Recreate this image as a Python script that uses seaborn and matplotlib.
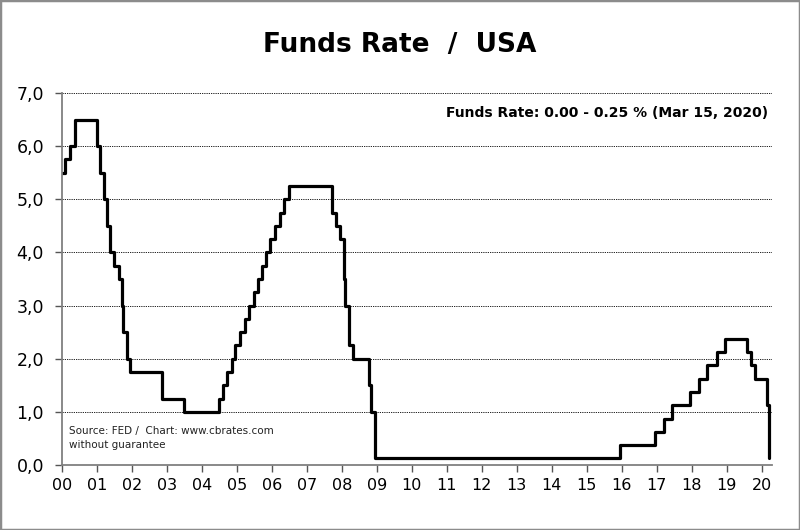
import numpy as np
import pandas as pd
import matplotlib.pyplot as plt
import seaborn as sns
from matplotlib.patches import Rectangle

sns.set_theme(style="white")
plt.rcParams["font.family"] = ["DejaVu Sans"]

# Fed funds target rate (midpoint), change dates
change_dates = [
    "2000-01-01", "2000-02-02", "2000-03-21", "2000-05-16",
    "2001-01-03", "2001-01-31", "2001-03-20", "2001-04-18", "2001-05-15",
    "2001-06-27", "2001-08-21", "2001-09-17", "2001-10-02", "2001-11-06",
    "2001-12-11", "2002-11-06", "2003-06-25",
    "2004-06-30", "2004-08-10", "2004-09-21", "2004-11-10", "2004-12-14",
    "2005-02-02", "2005-03-22", "2005-05-03", "2005-06-30", "2005-08-09",
    "2005-09-20", "2005-11-01", "2005-12-13",
    "2006-01-31", "2006-03-28", "2006-05-10", "2006-06-29",
    "2007-09-18", "2007-10-31", "2007-12-11",
    "2008-01-22", "2008-01-30", "2008-03-18", "2008-04-30", "2008-10-08",
    "2008-10-29", "2008-12-16",
    "2015-12-16", "2016-12-14",
    "2017-03-15", "2017-06-14", "2017-12-13",
    "2018-03-21", "2018-06-13", "2018-09-26", "2018-12-19",
    "2019-07-31", "2019-09-18", "2019-10-30",
    "2020-03-03", "2020-03-15", "2020-03-20",
]
rates = [
    5.50, 5.75, 6.00, 6.50,
    6.00, 5.50, 5.00, 4.50, 4.00,
    3.75, 3.50, 3.00, 2.50, 2.00,
    1.75, 1.25, 1.00,
    1.25, 1.50, 1.75, 2.00, 2.25,
    2.50, 2.75, 3.00, 3.25, 3.50,
    3.75, 4.00, 4.25,
    4.50, 4.75, 5.00, 5.25,
    4.75, 4.50, 4.25,
    3.50, 3.00, 2.25, 2.00, 1.50,
    1.00, 0.125,
    0.375, 0.625,
    0.875, 1.125, 1.375,
    1.625, 1.875, 2.125, 2.375,
    2.125, 1.875, 1.625,
    1.125, 0.125, 0.125,
]
x_tick_labels = [f"{y:02d}" for y in range(0, 21)]
y_tick_labels = [f"{v},0" for v in range(0, 8)]

dates = pd.to_datetime(change_dates)
df = pd.DataFrame({
    "year": (dates.year - 2000) + (dates.dayofyear - 1) / 365.25,
    "rate": rates,
})

fig = plt.figure(figsize=(8, 5.3), dpi=100)
fig.patch.set_facecolor("white")
fig.patches.append(Rectangle((0, 0), 1, 1, transform=fig.transFigure, fill=False,
                             edgecolor="#8c8c8c", linewidth=2.5))
ax = fig.add_axes([0.0775, 0.1226, 0.8875, 0.702])

sns.lineplot(data=df, x="year", y="rate", drawstyle="steps-post", color="black",
             linewidth=2.3, ax=ax, estimator=None)

ax.set_xlim(0, 20.3)
ax.set_ylim(0, 7)
ax.set_xticks(range(0, 21))
ax.set_xticklabels(x_tick_labels, fontsize=11.5)
ax.set_yticks(range(0, 8))
ax.set_yticklabels(y_tick_labels, fontsize=12.5)
ax.set_xlabel("")
ax.set_ylabel("")
ax.yaxis.grid(True, linestyle=(0, (1.5, 1.2)), color="black", linewidth=0.6)
ax.xaxis.grid(False)
for side in ["top", "right"]:
    ax.spines[side].set_visible(False)
for side in ["left", "bottom"]:
    ax.spines[side].set_color("#808080")
    ax.spines[side].set_linewidth(1.3)
ax.tick_params(axis="both", which="both", direction="out", length=5, width=1,
               color="#555555", labelcolor="black", bottom=True, left=True)
ax.tick_params(axis="x", pad=4)
ax.tick_params(axis="y", pad=8)

fig.text(0.5, 0.915, "Funds Rate  /  USA", ha="center", va="center",
         fontsize=19, fontweight="bold", color="black")
ax.text(0.995, 0.945, "Funds Rate: 0.00 - 0.25 % (Mar 15, 2020)", transform=ax.transAxes,
        ha="right", va="center", fontsize=10, fontweight="bold", color="black")
ax.text(0.01, 0.073, "Source: FED /  Chart: www.cbrates.com\nwithout guarantee",
        transform=ax.transAxes, ha="left", va="center", fontsize=7.5,
        color="#222222", linespacing=1.55)

fig.savefig("out.png", dpi=100)
